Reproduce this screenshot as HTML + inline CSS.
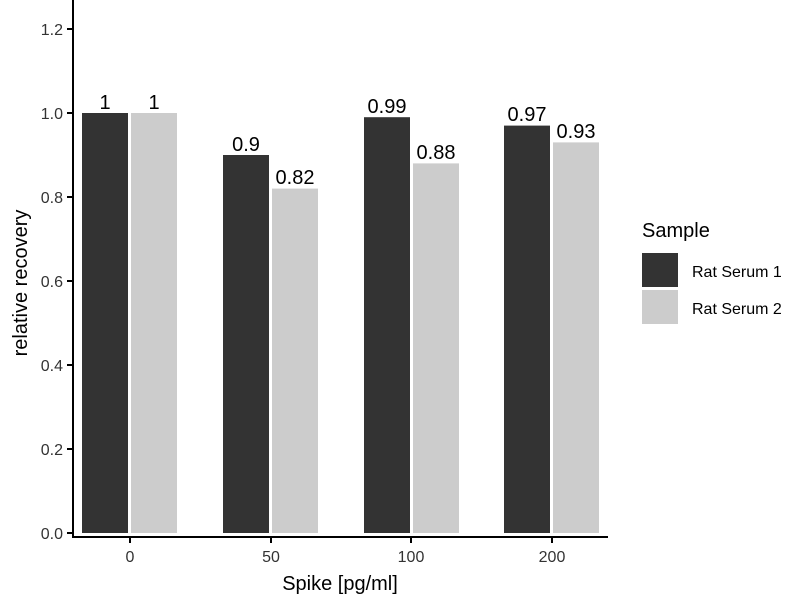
<!DOCTYPE html><html><head><style>body{margin:0;background:#fff}</style></head><body>
<svg width="800" height="600" xmlns="http://www.w3.org/2000/svg" font-family="Liberation Sans, sans-serif">
<rect width="800" height="600" fill="#fff"/>
<g>
<rect x="82" y="113" width="46" height="420" fill="#333"/>
<rect x="131" y="113" width="46" height="420" fill="#ccc"/>
<rect x="223" y="155" width="46" height="378" fill="#333"/>
<rect x="272" y="188.6" width="46" height="344.4" fill="#ccc"/>
<rect x="364" y="117.2" width="46" height="415.8" fill="#333"/>
<rect x="413" y="163.4" width="46" height="369.6" fill="#ccc"/>
<rect x="504" y="125.6" width="46" height="407.4" fill="#333"/>
<rect x="553" y="142.4" width="46" height="390.6" fill="#ccc"/>
</g>
<g font-size="20" fill="#000" text-anchor="middle">
<text x="105" y="109">1</text><text x="154" y="109">1</text>
<text x="246" y="151">0.9</text><text x="295" y="184">0.82</text>
<text x="387" y="113">0.99</text><text x="436" y="159">0.88</text>
<text x="527" y="121">0.97</text><text x="576" y="138">0.93</text>
</g>
<g stroke="#000" stroke-width="2" fill="none">
<line x1="73" y1="0" x2="73" y2="538"/>
<line x1="72" y1="537" x2="608" y2="537"/>
<line x1="67" y1="533" x2="73" y2="533"/><line x1="67" y1="449" x2="73" y2="449"/>
<line x1="67" y1="365" x2="73" y2="365"/><line x1="67" y1="281" x2="73" y2="281"/>
<line x1="67" y1="197" x2="73" y2="197"/><line x1="67" y1="113" x2="73" y2="113"/>
<line x1="67" y1="29" x2="73" y2="29"/>
<line x1="130" y1="537" x2="130" y2="543"/><line x1="271" y1="537" x2="271" y2="543"/>
<line x1="411" y1="537" x2="411" y2="543"/><line x1="552" y1="537" x2="552" y2="543"/>
</g>
<g font-size="16" fill="#333" text-anchor="end">
<text x="63" y="539">0.0</text><text x="63" y="455">0.2</text><text x="63" y="371">0.4</text>
<text x="63" y="287">0.6</text><text x="63" y="203">0.8</text><text x="63" y="119">1.0</text>
<text x="63" y="35">1.2</text>
</g>
<g font-size="16" fill="#333" text-anchor="middle">
<text x="130" y="562">0</text><text x="271" y="562">50</text><text x="411" y="562">100</text><text x="552" y="562">200</text>
</g>
<text x="340" y="590" font-size="20" text-anchor="middle">Spike [pg/ml]</text>
<text transform="translate(27,283) rotate(-90)" font-size="20" text-anchor="middle">relative recovery</text>
<text x="642" y="237" font-size="20">Sample</text>
<rect x="642" y="253" width="36" height="34" fill="#333"/>
<rect x="642" y="290" width="36" height="34" fill="#ccc"/>
<text x="692" y="277" font-size="16">Rat Serum 1</text>
<text x="692" y="314" font-size="16">Rat Serum 2</text>
</svg>
</body></html>
